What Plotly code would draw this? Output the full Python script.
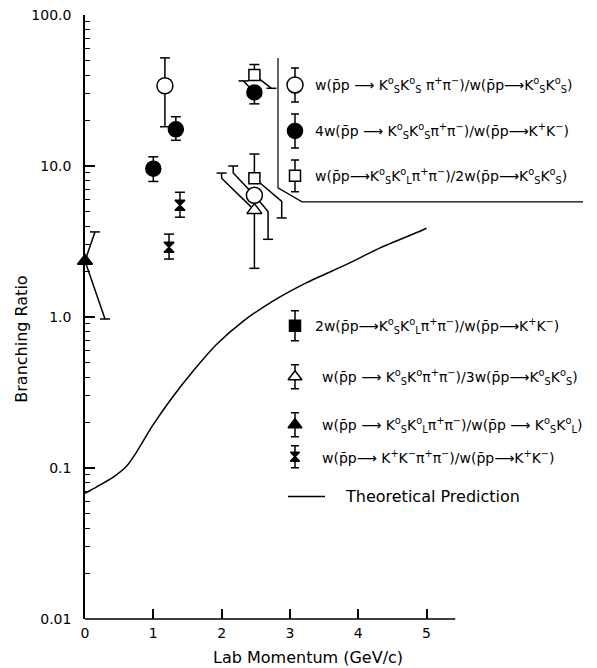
import plotly.graph_objects as go

# ---------------- data ----------------
# open circles: w(pp->KsKs pi pi)/w(pp->KsKs)
oc_x = [1.17, 2.48]
oc_y = [34.0, 6.4]
oc_hi = [52.0, None]
oc_lo = [18.2, None]
# filled circles: 4w(pp->KsKs pi pi)/w(pp->K+K-)
fc_x = [1.00, 1.33, 2.48]
fc_y = [9.6, 17.5, 30.7]
fc_hi = [11.5, 21.2, None]
fc_lo = [7.9, 14.8, 25.8]
# open squares: w(pp->KsKl pi pi)/2w(pp->KsKs)
sq_x = [2.48, 2.48]
sq_y = [40.0, 8.3]
sq_hi = [47.0, 12.0]
sq_lo = [None, None]
# open triangle: w(pp->KsK pi pi)/3w(pp->KsKs)
ot_x = [2.48]
ot_y = [5.1]
ot_hi = [None]
ot_lo = [2.10]
# filled triangle: w(pp->KsKl pi pi)/w(pp->KsKl)
ft_x = [0.0]
ft_y = [2.35]
# hourglass: w(pp->K+K- pi pi)/w(pp->K+K-)
hg_x = [1.23, 1.39]
hg_y = [2.9, 5.5]
hg_hi = [3.54, 6.7]
hg_lo = [2.42, 4.58]

# displaced error bars: (x point, y point, x bar, y elbow or None, y bound)
disp_x = [0.0, 0.0, 2.48, 2.48, 2.48, 2.48, 2.48, 2.48]
disp_y = [2.35, 2.35, 30.7, 40.0, 8.3, 6.4, 6.4, 5.1]
disp_bx = [0.146, 0.293, 2.32, 2.73, 2.88, 2.68, 2.17, 2.00]
disp_elbow = [None, None, None, None, 5.83, 5.0, 9.0, 8.3]
disp_bound = [3.66, 0.97, 36.6, 32.7, 4.53, 3.27, 10.0, 8.98]

# theoretical prediction
th_x = [0.0, 0.171, 0.414, 0.61, 0.757, 0.977, 1.245, 1.586, 1.928, 2.318,
        2.757, 3.246, 3.83, 4.32, 4.905, 5.0]
th_y = [0.068, 0.075, 0.087, 0.103, 0.128, 0.187, 0.28, 0.44, 0.66, 0.94,
        1.28, 1.69, 2.23, 2.87, 3.70, 3.87]

y_tickvals = [0.01, 0.1, 1, 10, 100]
y_ticktext = ["0.01", "0.1", "1.0", "10.0", "100.0"]
x_tickvals = [0, 1, 2, 3, 4, 5]
x_ticktext = ["0", "1", "2", "3", "4", "5"]

# ---------------- styles ----------------
FONT = "DejaVu Sans"
LW = 1.5
CAP = 0.073  # half cap width in GeV/c (~5 px)

# page has an 8px body margin; plot area (page px): x 85..585, y 15..619.5
PX0, PX1, PY0, PY1 = 85, 585, 15, 619.5
def paper_x(px):
    return (px - PX0) / (PX1 - PX0)
def paper_y(py):
    return (PY1 - py) / (PY1 - PY0)

fig = go.Figure()

fig.add_trace(go.Scatter(x=th_x, y=th_y, mode="lines",
                         line=dict(color="black", width=LW, shape="spline", smoothing=0.6),
                         showlegend=False, hoverinfo="skip"))

# error bars
ex, ey = [], []
def vbar(x, y, b):
    if b is None:
        return
    ex.extend([x, x, None, x - CAP, x + CAP, None])
    ey.extend([y, b, None, b, b, None])

for xs, ys, his, los in [(oc_x, oc_y, oc_hi, oc_lo), (fc_x, fc_y, fc_hi, fc_lo),
                         (sq_x, sq_y, sq_hi, sq_lo), (ot_x, ot_y, ot_hi, ot_lo),
                         (hg_x, hg_y, hg_hi, hg_lo)]:
    for x, y, h, l in zip(xs, ys, his, los):
        vbar(x, y, h)
        vbar(x, y, l)

for x, y, bx, el, b in zip(disp_x, disp_y, disp_bx, disp_elbow, disp_bound):
    if el is None:
        ex.extend([x, bx, None])
        ey.extend([y, b, None])
    else:
        ex.extend([x, bx, bx, None])
        ey.extend([y, el, b, None])
    ex.extend([bx - CAP, bx + CAP, None])
    ey.extend([b, b, None])

fig.add_trace(go.Scatter(x=ex, y=ey, mode="lines", line=dict(color="black", width=LW),
                         showlegend=False, hoverinfo="skip", cliponaxis=False))

def markers(xs, ys, symbol, size, fill):
    fig.add_trace(go.Scatter(x=xs, y=ys, mode="markers", cliponaxis=False,
                             marker=dict(symbol=symbol, size=size, color=fill,
                                         line=dict(color="black", width=LW)),
                             showlegend=False, hoverinfo="skip"))

markers(oc_x, oc_y, "circle", 16, "white")
markers(fc_x, fc_y, "circle", 15, "black")
markers(sq_x, sq_y, "square", 11, "white")
markers(ot_x, ot_y, "triangle-up", 13, "white")
markers(ft_x, ft_y, "triangle-up", 13, "black")
markers(hg_x, hg_y, "hourglass", 10, "black")

# ---------------- legend (page-pixel coordinates on overlay axes) ----------------
leg_rows = [
    (85, "circle", 16, "white", 17, 313,
     "w(p\u0304p ⟶ K<sup>o</sup><sub>S</sub>K<sup>o</sup><sub>S</sub> π<sup>+</sup>π<sup>−</sup>)/w(p\u0304p⟶K<sup>o</sup><sub>S</sub>K<sup>o</sup><sub>S</sub>)"),
    (131, "circle", 15, "black", 17, 313,
     "4w(p\u0304p ⟶ K<sup>o</sup><sub>S</sub>K<sup>o</sup><sub>S</sub>π<sup>+</sup>π<sup>−</sup>)/w(p\u0304p⟶K<sup>+</sup>K<sup>−</sup>)"),
    (176, "square", 11, "white", 16, 313,
     "w(p\u0304p⟶K<sup>o</sup><sub>S</sub>K<sup>o</sup><sub>L</sub>π<sup>+</sup>π<sup>−</sup>)/2w(p\u0304p⟶K<sup>o</sup><sub>S</sub>K<sup>o</sup><sub>S</sub>)"),
    (326, "square", 11, "black", 15, 313,
     "2w(p\u0304p⟶K<sup>o</sup><sub>S</sub>K<sup>o</sup><sub>L</sub>π<sup>+</sup>π<sup>−</sup>)/w(p\u0304p⟶K<sup>+</sup>K<sup>−</sup>)"),
    (377, "triangle-up", 12, "white", 12, 320,
     "w(p\u0304p ⟶ K<sup>o</sup><sub>S</sub>K<sup>o</sup>π<sup>+</sup>π<sup>−</sup>)/3w(p\u0304p⟶K<sup>o</sup><sub>S</sub>K<sup>o</sup><sub>S</sub>)"),
    (425, "triangle-up", 12, "black", 12, 320,
     "w(p\u0304p ⟶ K<sup>o</sup><sub>S</sub>K<sup>o</sup><sub>L</sub>π<sup>+</sup>π<sup>−</sup>)/w(p\u0304p ⟶ K<sup>o</sup><sub>S</sub>K<sup>o</sup><sub>L</sub>)"),
    (457, "hourglass", 9, "black", 11, 320,
     "w(p\u0304p⟶ K<sup>+</sup>K<sup>−</sup>π<sup>+</sup>π<sup>−</sup>)/w(p\u0304p⟶K<sup>+</sup>K<sup>−</sup>)"),
]
SYM_X = 295
for (py, sym, size, fill, eh, tx, txt) in leg_rows:
    fig.add_trace(go.Scatter(x=[SYM_X], y=[py], xaxis="x2", yaxis="y2", mode="markers",
                             cliponaxis=False,
                             marker=dict(symbol=sym, size=size, color=fill,
                                         line=dict(color="black", width=LW)),
                             error_y=dict(type="constant", value=eh, color="black",
                                          thickness=LW, width=4),
                             showlegend=False, hoverinfo="skip"))
    fig.add_annotation(x=paper_x(tx), y=paper_y(py), xref="paper", yref="paper",
                       text=txt, showarrow=False, xanchor="left", yanchor="middle",
                       font=dict(family=FONT, size=14, color="black"))

fig.add_trace(go.Scatter(x=[288, 325], y=[497, 497], xaxis="x2", yaxis="y2", mode="lines",
                         line=dict(color="black", width=LW), showlegend=False,
                         hoverinfo="skip", cliponaxis=False))
fig.add_annotation(x=paper_x(343), y=paper_y(497), xref="paper", yref="paper",
                   text="Theoretical Prediction",
                   showarrow=False, xanchor="left", yanchor="middle",
                   font=dict(family=FONT, size=16, color="black"))

# legend box border
fig.add_shape(type="path", xref="x2", yref="y2",
              path="M278,58 L278,188 L302,202 L583,202",
              line=dict(color="black", width=1.2))

# x axis line (only up to ~5.4)
fig.add_shape(type="line", xref="x", yref="paper", x0=0, x1=5.42, y0=0, y1=0,
              line=dict(color="black", width=LW))

# axis titles
fig.add_annotation(x=paper_x(308), y=paper_y(658), xref="paper", yref="paper",
                   text="Lab Momentum (GeV/c)",
                   showarrow=False, xanchor="center", yanchor="middle",
                   font=dict(family=FONT, size=16, color="black"))
fig.add_annotation(x=paper_x(22), y=paper_y(340), xref="paper", yref="paper",
                   text="Branching Ratio",
                   showarrow=False, xanchor="center", yanchor="middle", textangle=-90,
                   font=dict(family=FONT, size=16, color="black"))

minor_vals = [m * 10 ** k for k in range(-2, 2) for m in range(2, 10)]

W, H, BODY = 597, 668, 8
fig.update_layout(
    width=W, height=H,
    margin=dict(l=PX0 - BODY, r=W - (PX1 - BODY), t=PY0 - BODY, b=H - (PY1 - BODY),
                autoexpand=False),
    paper_bgcolor="white", plot_bgcolor="white",
    showlegend=False,
    font=dict(family=FONT, size=14, color="black"),
    xaxis=dict(range=[0, 7.32], showgrid=False, zeroline=False, showline=False,
               automargin=False, ticklabeloverflow="allow",
               tickmode="array", tickvals=x_tickvals, ticktext=x_ticktext,
               ticks="inside", ticklen=10, tickwidth=LW, tickcolor="black",
               ticklabelstandoff=4, tickfont=dict(family=FONT, size=14)),
    yaxis=dict(type="log", range=[-2, 2], showgrid=False, zeroline=False,
               automargin=False, ticklabeloverflow="allow",
               showline=True, linecolor="black", linewidth=LW,
               tickmode="array", tickvals=y_tickvals, ticktext=y_ticktext,
               ticks="inside", ticklen=10, tickwidth=LW, tickcolor="black",
               ticklabelstandoff=9, tickfont=dict(family=FONT, size=14),
               minor=dict(tickmode="array", tickvals=minor_vals, ticks="inside",
                          ticklen=5, tickwidth=1.2, tickcolor="black", showgrid=False)),
    xaxis2=dict(overlaying="x", range=[PX0, PX1], visible=False, fixedrange=True,
                automargin=False),
    yaxis2=dict(overlaying="y", range=[PY1, PY0], visible=False, fixedrange=True,
                automargin=False),
)

fig.write_html("out.html")
